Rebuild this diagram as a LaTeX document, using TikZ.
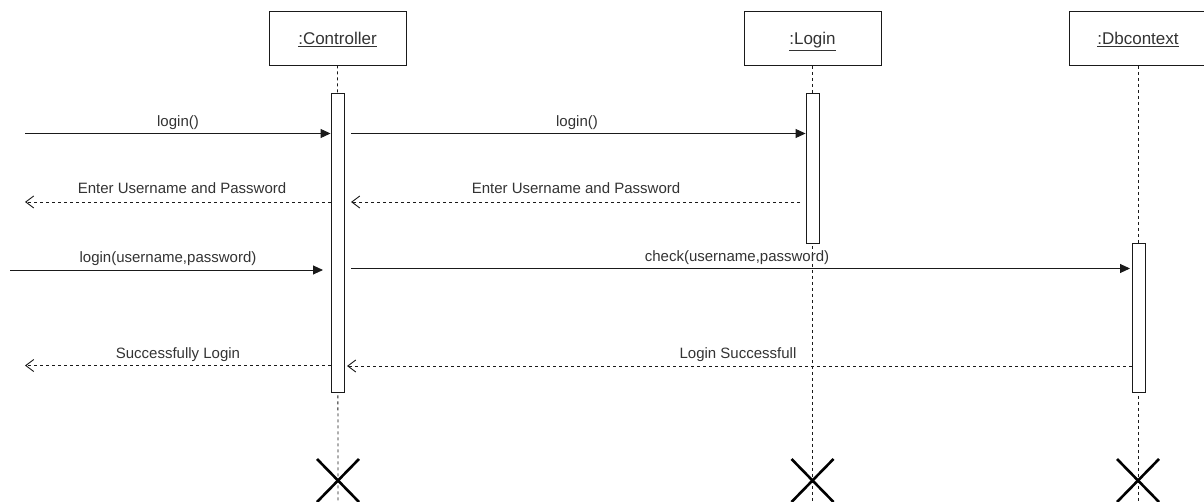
\documentclass[tikz,border=0pt]{standalone}
\usepackage{fontspec}
\setmainfont{Liberation Sans}
\usetikzlibrary{arrows.meta,calc}
\definecolor{ink}{HTML}{1A1A1A}
\definecolor{txt}{HTML}{333333}
\begin{document}
\begin{tikzpicture}[x=1pt,y=-1pt,
  every node/.style={font=\fontsize{15}{17}\selectfont, text=txt},
  objbox/.style={draw=ink, line width=0.9pt, fill=white, minimum width=137pt, minimum height=54pt, inner sep=0pt, font=\fontsize{17}{19}\selectfont, text height=13pt, text depth=0pt},
  actbox/.style={draw=ink, line width=0.9pt, fill=white, minimum width=13pt, inner sep=0pt},
  lifeline/.style={draw=ink, line width=0.8pt, dash pattern=on 3pt off 3pt},
  callmsg/.style={draw=ink, line width=0.9pt, -{Triangle[length=10pt,width=9pt]}},
  replymsg/.style={draw=ink, line width=0.8pt, dash pattern=on 3pt off 3pt, -{Straight Barb[length=8pt,width=12pt,line width=0.9pt]}},
  msglabel/.style={inner sep=0pt, anchor=base},
  destroy/.style={draw=black, line width=2.6pt}
]
\useasboundingbox (0,0) rectangle (1204,502);
\clip (0,0) rectangle (1204,502);

% participants
\node[objbox] (ctrl) at (337.5,38) {\underline{:Controller}};
\node[objbox] (login) at (812.5,38.5) {\underline{:Login}};
\node[objbox] (db) at (1138,38.5) {\underline{:Dbcontext}};

% lifeline ends
\coordinate (ctrlEnd) at (338,502);
\coordinate (loginEnd) at (812.5,502);
\coordinate (dbEnd) at (1138,502);
\draw[lifeline] (ctrl.south) -- (ctrlEnd);
\draw[lifeline] (login.south) -- (loginEnd);
\draw[lifeline] (db.south) -- (dbEnd);

% activation bars
\node[actbox, minimum height=299pt] (ca) at (337.5,242.5) {};
\node[actbox, minimum height=150pt] (la) at (812.5,168) {};
\node[actbox, minimum height=149pt] (da) at (1138.5,317.5) {};

% free ends of found / lost messages
\coordinate (in1) at (25,133.5);
\coordinate (out1) at (25,202);
\coordinate (in2) at (10,270);
\coordinate (in2tip) at (323,270);
\coordinate (out2) at (25,365.5);

% messages
\draw[callmsg] (in1) -- (in1 -| ca.west);
\node[msglabel] (m1) at (178,127) {login()};

\coordinate (m2s) at (351,133.5);
\draw[callmsg] (m2s) -- (m2s -| la.west);
\node[msglabel] (m2) at (577,127) {login()};

\coordinate (m3s) at (800,202);
\coordinate (m3e) at (351,202);
\draw[replymsg] (m3s) -- (m3e);
\node[msglabel] (m3) at (576,194) {Enter Username and Password};

\draw[replymsg] (out1 -| ca.west) -- (out1);
\node[msglabel] (m4) at (182,194) {Enter Username and Password};

\draw[callmsg] (in2) -- (in2tip);
\node[msglabel] (m5) at (168,263) {login(username,password)};

\coordinate (m6s) at (351,268.5);
\coordinate (m6e) at (1130,268.5);
\draw[callmsg] (m6s) -- (m6e);
\node[msglabel] (m6) at (737,262) {check(username,password)};

\coordinate (m7e) at (347,366);
\draw[replymsg] (m7e -| da.west) -- (m7e);
\node[msglabel] (m7) at (738,359) {Login Successfull};

\draw[replymsg] (out2 -| ca.west) -- (out2);
\node[msglabel] (m8) at (178,358.5) {Successfully Login};

% destruction marks
\foreach \c in {ctrlEnd,loginEnd,dbEnd}{
  \draw[destroy] ($(\c)+(-21,-43)$) -- ($(\c)+(21,0)$);
  \draw[destroy] ($(\c)+(21,-43)$) -- ($(\c)+(-21,0)$);
}
\end{tikzpicture}
\end{document}
